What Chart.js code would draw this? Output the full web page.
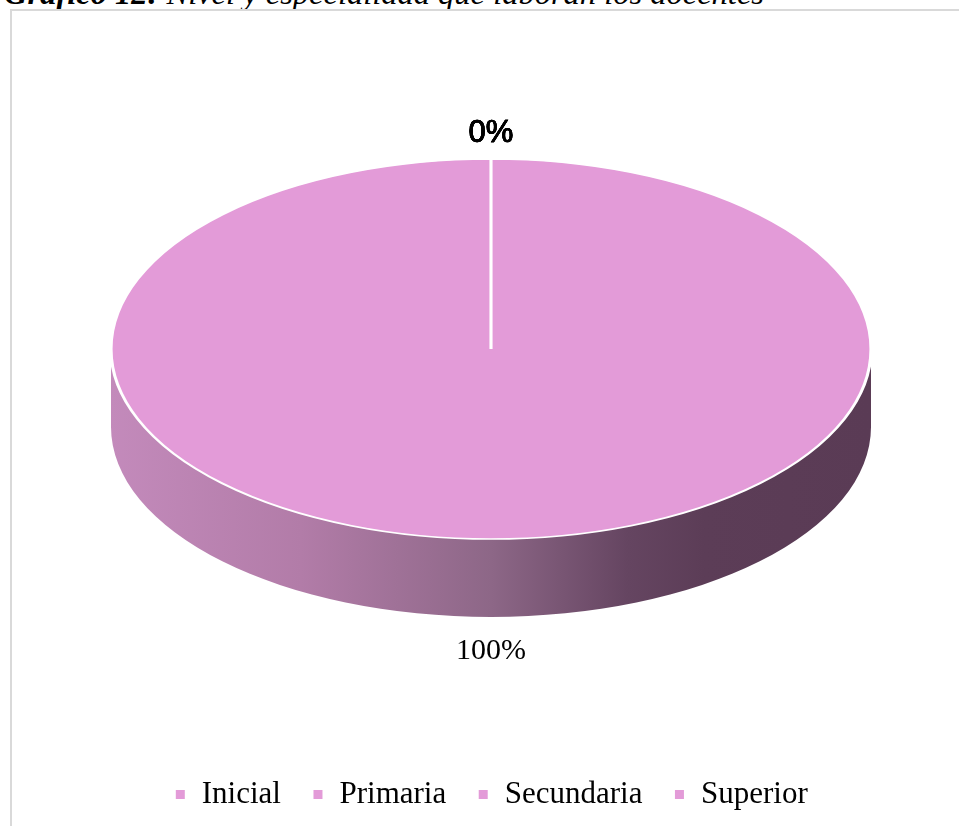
<!DOCTYPE html>
<html lang="es">
<head>
<meta charset="utf-8">
<title>Gráfico 12</title>
<script src="https://cdn.jsdelivr.net/npm/chart.js@4.4.1/dist/chart.umd.min.js"></script>
<style>
  html, body { margin: 0; padding: 0; background: #fff; overflow: hidden; }
  body { width: 959px; height: 826px; position: relative; }
  .caption {
    position: absolute; left: 4px; top: -23px;
    font-family: "Liberation Serif", "Times New Roman", serif;
    font-size: 32.5px; line-height: 33px; font-style: italic;
    white-space: nowrap; color: #000;
  }
  .frame {
    position: absolute; left: 10px; top: 9px;
    width: 1000px; height: 1000px;
    border: 2px solid #d9d9d9;
  }
  #chart-box { position: absolute; left: 0; top: 0; width: 959px; height: 850px; }
</style>
</head>
<body>
<div class="caption"><b>Gráfico 12:</b> Nivel y especialidad que laboran los docentes</div>
<div class="frame"></div>
<div id="chart-box"><canvas id="pieChart"></canvas></div>

<script>
const categories = ['Inicial', 'Primaria', 'Secundaria', 'Superior'];
const shares = [0, 0, 100, 0];
const sliceColors = ['#e39bd8', '#e39bd8', '#e39bd8', '#e39bd8'];

// the round pie gets squashed into an ellipse and a side wall is drawn under it
const TILT = { rx: 380, ry: 190, depth: 78, cy: 349 };
const LABEL_GAP = 30;
const LABEL_SHIFT = 4;

function tiltInfo(chart) {
    const arc = chart.getDatasetMeta(0).data[0];
    const r = arc.outerRadius;
    return { cx: arc.x, cy0: arc.y, sx: TILT.rx / r, sy: TILT.ry / r };
}

const tiltPlugin = {
    id: 'tilt',
    beforeDatasetsDraw(chart) {
        const ctx = chart.ctx;
        const t = tiltInfo(chart);
        const meta = chart.getDatasetMeta(0);

        // side wall, shaded light on the left and dark on the right
        const wall = ctx.createLinearGradient(t.cx - TILT.rx, 0, t.cx + TILT.rx, 0);
        wall.addColorStop(0, '#c38abb');
        wall.addColorStop(0.25, '#b27ca8');
        wall.addColorStop(0.5, '#8d6787');
        wall.addColorStop(0.68, '#654561');
        wall.addColorStop(0.78, '#5c3d57');
        wall.addColorStop(1, '#5a3b55');

        meta.data.forEach(arc => {
            // only the front half (0..PI in canvas angles) shows
            for (let k = -1; k <= 1; k++) {
                const a1 = Math.max(arc.startAngle + k * 2 * Math.PI, 0);
                const a2 = Math.min(arc.endAngle + k * 2 * Math.PI, Math.PI);
                if (a2 <= a1) continue;
                ctx.beginPath();
                ctx.ellipse(t.cx, TILT.cy, TILT.rx, TILT.ry, 0, a1, a2);
                ctx.ellipse(t.cx, TILT.cy + TILT.depth, TILT.rx, TILT.ry, 0, a2, a1, true);
                ctx.closePath();
                ctx.fillStyle = wall;
                ctx.fill();
            }
        });

        ctx.save();
        ctx.translate(t.cx, TILT.cy);
        ctx.scale(t.sx, t.sy);
        ctx.translate(-t.cx, -t.cy0);
    },
    afterDatasetsDraw(chart) {
        const ctx = chart.ctx;
        ctx.restore();

        const t = tiltInfo(chart);
        const meta = chart.getDatasetMeta(0);
        const total = shares.reduce((a, b) => a + b, 0);

        ctx.save();
        ctx.fillStyle = '#000';
        ctx.strokeStyle = '#000';
        ctx.lineWidth = 0.6;
        ctx.textAlign = 'center';
        ctx.textBaseline = 'middle';
        meta.data.forEach((arc, i) => {
            const mid = (arc.startAngle + arc.endAngle) / 2;
            const cos = Math.cos(mid), sin = Math.sin(mid);
            const x = t.cx + (TILT.rx + LABEL_GAP) * cos;
            const y = TILT.cy + (TILT.ry + LABEL_GAP) * sin + (sin > 0 ? TILT.depth : 0) + LABEL_SHIFT;
            const pct = Math.round(shares[i] / total * 100);
            if (shares[i] === 0) {
                ctx.font = '31px "Liberation Sans Narrow", "Liberation Sans", sans-serif';
                ctx.fillText(pct + '%', x, y);
                ctx.strokeText(pct + '%', x, y);
            } else {
                ctx.font = '30px "Liberation Serif", serif';
                ctx.fillText(pct + '%', x, y);
            }
        });
        ctx.restore();
    }
};

Chart.defaults.font.family = '"Liberation Serif", "Times New Roman", serif';
Chart.defaults.color = '#000';

new Chart(document.getElementById('pieChart'), {
    type: 'pie',
    data: {
        labels: categories,
        datasets: [{
            data: shares,
            backgroundColor: sliceColors,
            borderColor: '#ffffff',
            borderWidth: 3,
            clip: false
        }]
    },
    options: {
        responsive: true,
        maintainAspectRatio: false,
        animation: false,
        layout: { padding: { left: 23, right: 0, top: 20, bottom: 30 } },
        plugins: {
            legend: {
                position: 'bottom',
                labels: {
                    boxWidth: 12,
                    boxHeight: 12,
                    padding: 31,
                    font: { size: 31 },
                    color: '#000'
                }
            },
            tooltip: { enabled: false }
        }
    },
    plugins: [tiltPlugin]
});
</script>
</body>
</html>
